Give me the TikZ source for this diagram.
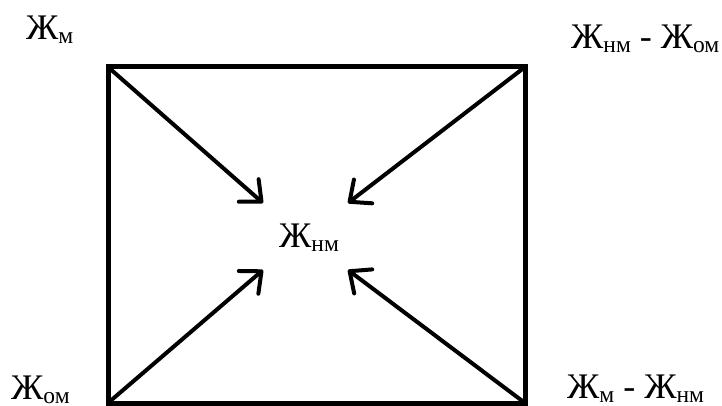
\documentclass[tikz,border=0pt]{standalone}
\usepackage{fontspec}
\setmainfont{Liberation Serif}
\usetikzlibrary{arrows.meta}
\newcommand\zhsub[1]{Ж\raisebox{-4pt}{\fontsize{23.5}{23.5}\selectfont #1}}
\tikzset{
  lbl/.style={anchor=base west, inner sep=0pt, font=\fontsize{36}{36}\selectfont},
  frame/.style={line width=5pt, line join=miter},
  arr/.style={line width=4pt, line cap=round, -{Straight Barb[length=17pt,width=30pt,line cap=round,line join=round]}}
}
\begin{document}
\begin{tikzpicture}[x=1pt,y=-1pt]
\useasboundingbox (0,0) rectangle (722,406);
\coordinate (tl) at (108,67);
\coordinate (tr) at (525,67);
\coordinate (bl) at (108,403);
\coordinate (br) at (525,403);
\coordinate (t1) at (263,203);
\coordinate (t2) at (348,203);
\coordinate (t3) at (263,270);
\coordinate (t4) at (348,270);
\draw[frame] (tl) rectangle (br);
\draw[arr] (tl) -- (t1);
\draw[arr] (tr) -- (t2);
\draw[arr] (bl) -- (t3);
\draw[arr] (br) -- (t4);
\node[lbl] (c) at (279,247) {\zhsub{нм}};
\node[lbl] (a) at (26,40) {\zhsub{м}};
\node[lbl] (b) at (571,49) {\zhsub{нм} - \zhsub{ом}};
\node[lbl] (d) at (11,399) {\zhsub{ом}};
\node[lbl] (e) at (567,398) {\zhsub{м} - \zhsub{нм}};
\end{tikzpicture}
\end{document}
